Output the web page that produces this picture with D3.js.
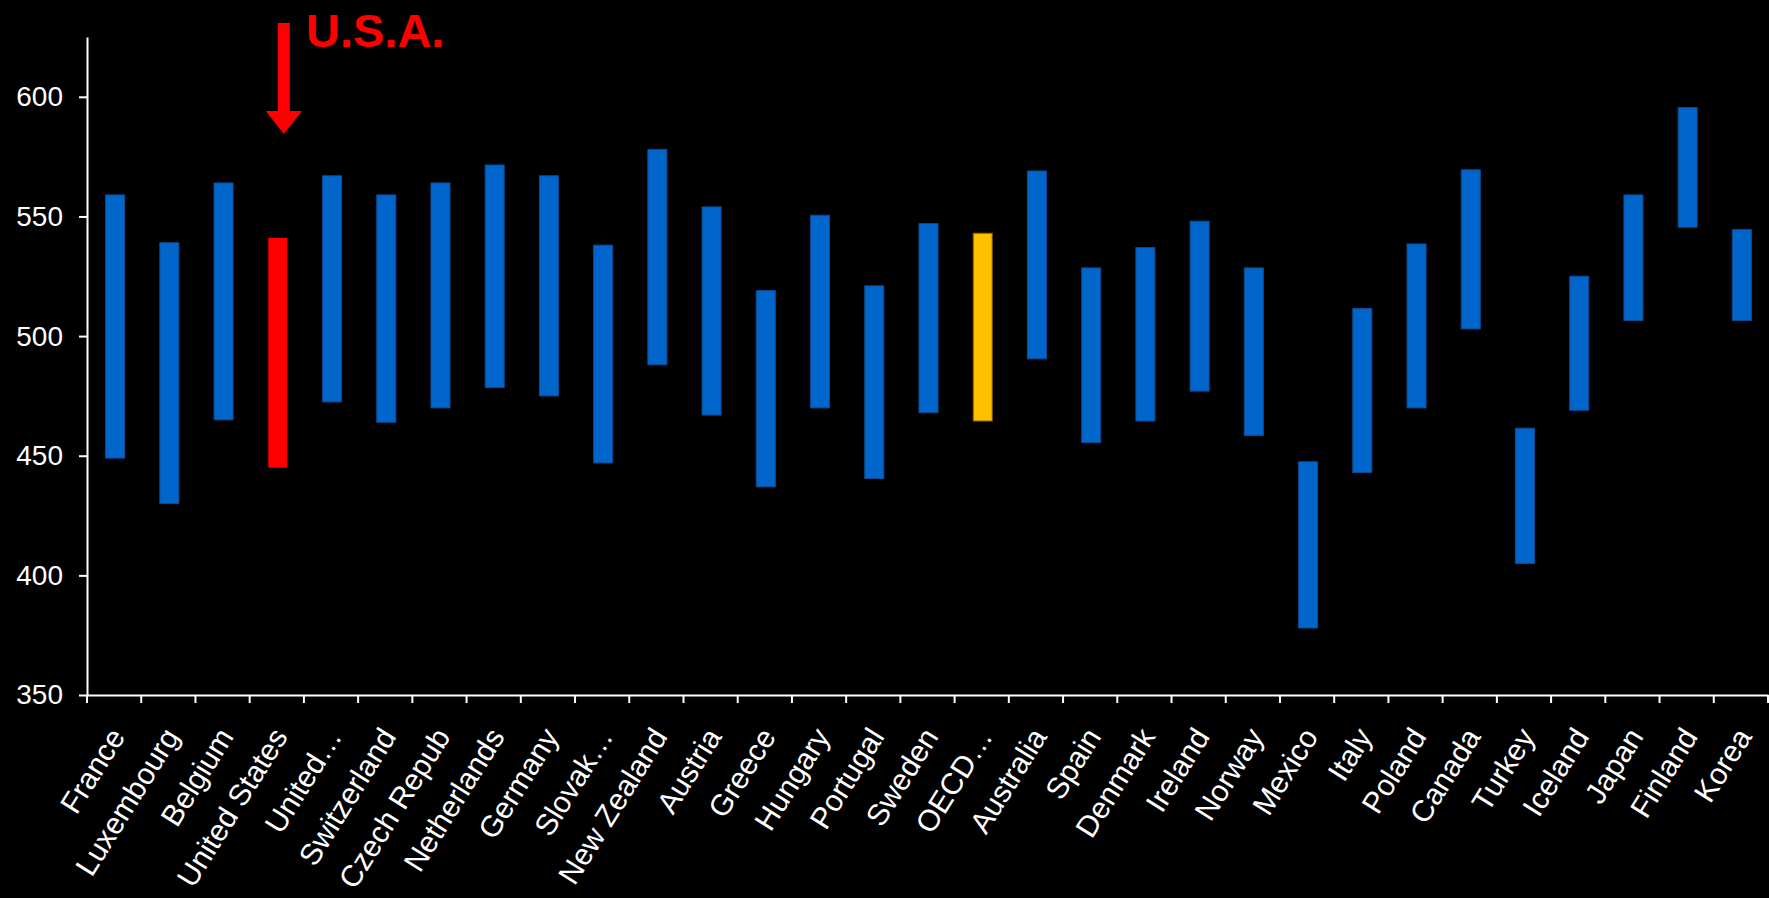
<!DOCTYPE html>
<html>
<head>
<meta charset="utf-8">
<script src="https://d3js.org/d3.v7.min.js"></script>
<style>
  body { margin:0; background:#000; }
  svg { display:block; font-family:"Liberation Sans", Arial, sans-serif; }
</style>
</head>
<body>
<svg width="1769" height="898"></svg>
<script>
var countries = ["France","Luxembourg","Belgium","United States","United\u2026","Switzerland","Czech Repub",
  "Netherlands","Germany","Slovak\u2026","New Zealand","Austria","Greece","Hungary","Portugal","Sweden",
  "OECD\u2026","Australia","Spain","Denmark","Ireland","Norway","Mexico","Italy","Poland","Canada",
  "Turkey","Iceland","Japan","Finland","Korea"];
var highScores = [559,539,564,541,567,559,564,571.5,567,538,578,554,519,550.5,521,547,
  543,569,528.5,537,548,528.5,447.5,511.5,538.5,569.5,461.5,525,559,595.5,544.5];
var lowScores = [449,430,465,445,472.5,464,470,478.5,475,447,488,467,437,470,440.5,468,
  464.5,490.5,455.5,464.5,477,458.5,378,443,470,503,405,469,506.5,545.5,506.5];
var yTicks = [350,400,450,500,550,600];

var svg = d3.select("svg");
var x = d3.scaleBand().domain(countries).range([87,1768]);
var y = d3.scaleLinear().domain([350,625]).range([695,37]);
var barW = 19;

function barColor(name) {
  if (name == "United States") return "#ff0000";
  if (name == "OECD\u2026") return "#ffc000";
  return "#0066cc";
}
function barStroke(name) {
  if (name == "United States") return "none";
  if (name == "OECD\u2026") return "#7f6000";
  return "#0a4d96";
}

// bars
svg.selectAll("rect.bar").data(countries).enter().append("rect")
  .attr("class","bar")
  .attr("x", function(d){ return x(d) + x.bandwidth()/2 - barW/2 + 1; })
  .attr("y", function(d,i){ return y(highScores[i]); })
  .attr("width", barW)
  .attr("height", function(d,i){ return y(lowScores[i]) - y(highScores[i]); })
  .attr("fill", barColor)
  .attr("stroke", barStroke)
  .attr("stroke-width", 1);

// y axis
var yaxis = d3.axisLeft(y).tickValues(yTicks).tickSize(8).tickPadding(16).tickSizeOuter(0);
var gy = svg.append("g").attr("transform","translate(87,0)").call(yaxis);
gy.select(".domain").attr("stroke","#fff").attr("stroke-width",2);
gy.selectAll(".tick line").attr("stroke","#fff").attr("stroke-width",2);
gy.selectAll(".tick text").attr("fill","#fff").style("font-size","28px")
  .style("font-family","Liberation Sans, Arial, sans-serif");

// x axis
var xaxis = d3.axisBottom(x).tickSize(8).tickSizeOuter(0);
var gx = svg.append("g").attr("transform","translate(0,695)").call(xaxis);
gx.select(".domain").attr("stroke","#fff").attr("stroke-width",2);
gx.selectAll(".tick line").attr("stroke","#fff").attr("stroke-width",2)
  .attr("x1", -x.bandwidth()/2).attr("x2", -x.bandwidth()/2);
gx.append("line").attr("x1",x.range()[1]).attr("x2",x.range()[1]).attr("y1",0).attr("y2",8)
  .attr("stroke","#fff").attr("stroke-width",2);
gx.selectAll(".tick text")
  .attr("fill","#fff")
  .attr("x",0).attr("y",0).attr("dy","0.35em")
  .attr("text-anchor","end")
  .attr("transform","translate(3,36) rotate(-58)")
  .style("font-size","30px")
  .style("font-family","Liberation Sans, Arial, sans-serif");

// U.S.A. arrow
var ax = x("United States") + x.bandwidth()/2 + 7;
svg.append("rect").attr("x", ax-6).attr("y", 23).attr("width", 12).attr("height", 90).attr("fill","#ff0000");
svg.append("path")
  .attr("d", "M" + (ax-18) + ",111 L" + (ax+18) + ",111 L" + ax + ",134 Z")
  .attr("fill","#ff0000");
svg.append("text").text("U.S.A.")
  .attr("x", 306).attr("y", 47)
  .attr("fill","#ff0000")
  .style("font-weight","bold")
  .style("font-size","47px");
</script>
</body>
</html>
